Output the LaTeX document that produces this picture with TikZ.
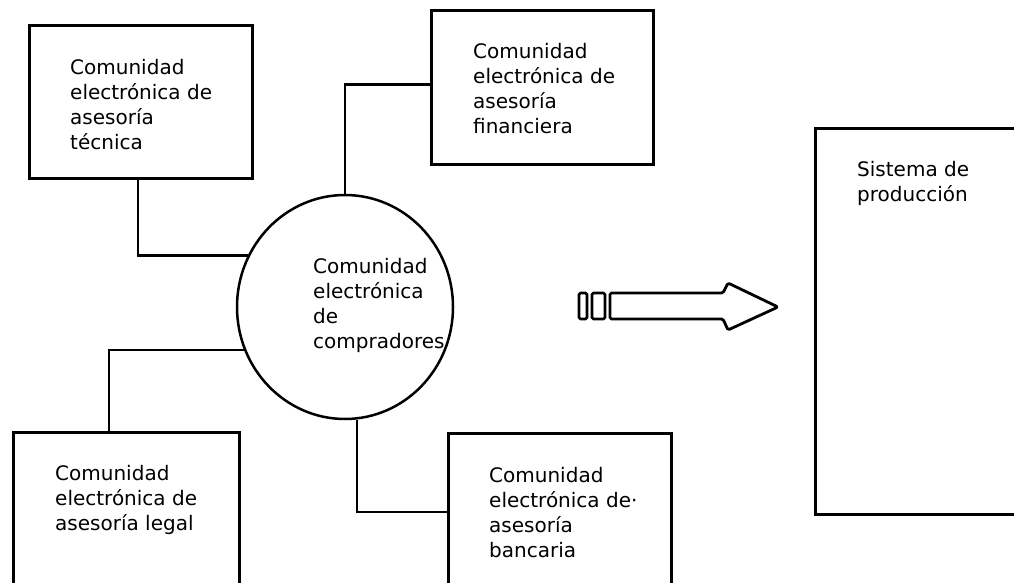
\documentclass[tikz,border=0pt]{standalone}
\usepackage{fontspec}
\setmainfont{DejaVu Sans}
\usetikzlibrary{shapes.geometric}
\begin{document}
\begin{tikzpicture}[x=1pt,y=-1pt,
  box/.style={draw,line width=3pt,rectangle,inner sep=0pt,anchor=north west},
  hub/.style={draw,line width=2.5pt,ellipse,inner sep=0pt},
  link/.style={line width=2.5pt},
  label/.style={anchor=north west,inner sep=0pt,align=left,font=\fontsize{20}{25}\selectfont},
  blockarrow/.style={line width=2.8pt,line join=round,rounded corners=1.5pt}]
\useasboundingbox (0,0) rectangle (1014,583);
\clip (0,0) rectangle (1014,583);

% communities around the buyers' community
\node[box,minimum width=223pt,minimum height=153pt] (tec) at (28,24) {};
\node[box,minimum width=222pt,minimum height=154pt] (fin) at (430,9) {};
\node[box,minimum width=226pt,minimum height=200pt] (leg) at (12,431) {};
\node[box,minimum width=223pt,minimum height=200pt] (ban) at (447,432) {};
\node[box,minimum width=240pt,minimum height=386pt] (prod) at (814,127) {};
\node[hub,minimum width=216pt,minimum height=224pt] (comp) at (345,307) {};

% texts
\node[label] (ttec) at (70,59) {Comunidad\\electrónica de\\asesoría\\técnica};
\node[label] (tfin) at (473,43) {Comunidad\\electrónica de\\asesoría\\financiera};
\node[label] (tcomp) at (313,258) {Comunidad\\electrónica\\de\\compradores};
\node[label] (tleg) at (55,465) {Comunidad\\electrónica de\\asesoría legal};
\node[label] (tban) at (489,467) {Comunidad\\electrónica de·\\asesoría\\bancaria};
\node[label] (tprod) at (857,161) {Sistema de\\producción};

% connectors
\draw[link] ([xshift=110pt]tec.south west) |- (comp.152);
\draw[link] (comp.north) |- ([yshift=3pt]fin.west);
\draw[link] (comp.203) -| ([xshift=97pt]leg.north west);
\draw[link] (comp.276) |- ([yshift=-80pt]ban.north west);

% block arrow towards the production system
\draw[blockarrow] (579,293) rectangle (587,319);
\draw[blockarrow] (592,293) rectangle (605,319);
\draw[blockarrow] (610,293) -- (723,293) -- (728,283) -- (778,307)
  -- (728,330) -- (723,319) -- (610,319) -- cycle;
\end{tikzpicture}
\end{document}
